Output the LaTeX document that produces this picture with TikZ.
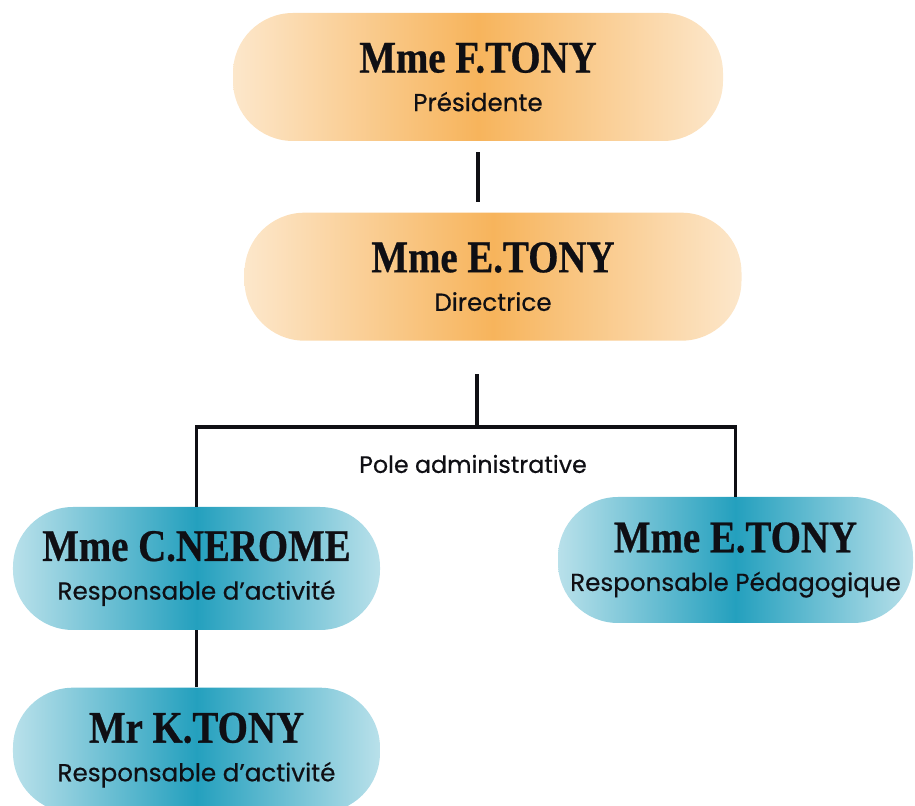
\documentclass[tikz,border=0pt]{standalone}
\usepackage{fontspec}
\setmainfont{Poppins}[FakeBold=0.5]
\newfontfamily\titlefont[FakeStretch=0.86,FakeBold=0.6]{Liberation Serif}
\usetikzlibrary{positioning}
\definecolor{apricot}{RGB}{247,180,92}
\definecolor{lagoon}{RGB}{36,160,190}
\definecolor{ink}{RGB}{15,15,20}
\tikzset{
  pill/.style={left color=#1!32!white,right color=#1!32!white,middle color=#1,
    rounded corners=1.2cm,minimum height=2.56cm,align=center,text=ink,
    font=\fontsize{14}{22}\selectfont},
  pill/.default=apricot,
  link/.style={draw=ink,line width=2pt},
  tag/.style={text=ink,font=\fontsize{13.5}{16}\selectfont},
}
\newcommand{\who}[1]{{\titlefont\bfseries\fontsize{25.7}{22}\selectfont #1}}

\begin{document}
\begin{tikzpicture}
  \useasboundingbox (0,0) rectangle (18.3,-16.12);
  % top of the chart
  \node[pill,minimum width=9.8cm] (pres) at (9.56,-1.54) {\who{Mme F.TONY}\\Présidente};
  \node[pill,minimum width=9.94cm,below=1.42cm of pres,xshift=0.3cm] (dir) {\who{Mme E.TONY}\\Directrice};
  % pole administrative
  \node[pill=lagoon,minimum width=7.34cm,minimum height=2.46cm] (ner) at (3.93,-11.37) {\who{Mme C.NEROME}\\Responsable d’activité};
  \node[pill=lagoon,minimum width=7.1cm,minimum height=2.52cm] (ped) at (14.71,-11.2) {\who{Mme E.TONY}\\Responsable Pédagogique};
  \node[pill=lagoon,minimum width=7.34cm,minimum height=2.5cm,below=1.14cm of ner] (kto) {\who{Mr K.TONY}\\Responsable d’activité};
  \node[tag] (pole) at (9.46,-9.28) {Pole administrative};
  \coordinate (hub) at (9.54,-8.54);
  \draw[link] ([yshift=-0.22cm]pres.south) -- ([yshift=0.2cm]pres.south |- dir.north);
  \draw[link] (hub |- dir.south) ++(0,-0.66) -- (hub);
  \draw[link] (ner.north) |- (hub) -| (ped.north);
  \draw[link] (ner.south) -- (kto.north);
\end{tikzpicture}
\end{document}
